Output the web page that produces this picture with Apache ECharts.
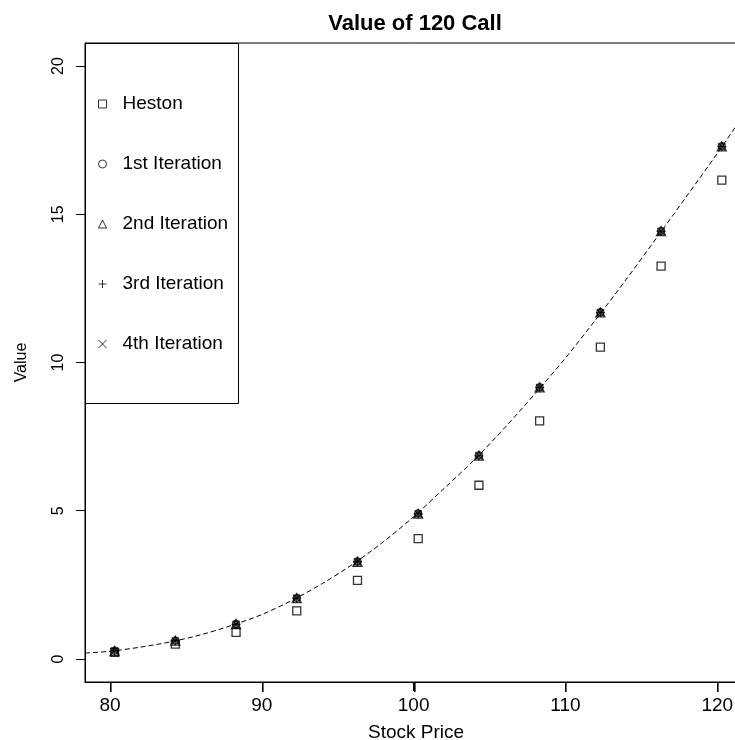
<!DOCTYPE html>
<html>
<head>
<meta charset="utf-8">
<script src="https://cdn.jsdelivr.net/npm/echarts@6/dist/echarts.min.js"></script>
<style>html,body{margin:0;padding:0;background:#fff}#c{width:735px;height:740px}</style>
</head>
<body>
<div id="c"></div>
<script>
// ---- data ----
var stockPrices = [80.3, 84.3, 88.3, 92.3, 96.3, 100.3, 104.3, 108.3, 112.3, 116.3, 120.3];
var heston = [0.22, 0.50, 0.90, 1.62, 2.65, 4.06, 5.86, 8.03, 10.52, 13.25, 16.15];
var iter1 = [0.28, 0.62, 1.18, 2.06, 3.29, 4.91, 6.87, 9.17, 11.70, 14.44, 17.30];
var iter2 = [0.27, 0.62, 1.18, 2.05, 3.28, 4.90, 6.86, 9.16, 11.69, 14.43, 17.29];
var iter3 = [0.27, 0.61, 1.17, 2.05, 3.28, 4.89, 6.85, 9.15, 11.68, 14.42, 17.28];
var iter4 = [0.27, 0.61, 1.17, 2.05, 3.28, 4.89, 6.85, 9.15, 11.68, 14.42, 17.28];
var curveX = [78.35, 80, 82, 84, 86, 88, 90, 92, 94, 96, 98, 100, 102, 104, 106, 108, 110, 112, 114, 116, 118, 120, 122];
var curveY = [0.20, 0.26, 0.40, 0.58, 0.82, 1.13, 1.50, 1.98, 2.55, 3.20, 3.95, 4.80, 5.75, 6.72, 7.80, 8.95, 10.15, 11.45, 12.80, 14.20, 15.62, 17.05, 18.55];
var xTicks = [80, 90, 100, 110, 120];
var yTicks = [0, 5, 10, 15, 20];
var seriesNames = ['Heston', '1st Iteration', '2nd Iteration', '3rd Iteration', '4th Iteration'];

function pairs(xs, ys) { return xs.map(function (x, i) { return [x, ys[i]]; }); }

var FONT = "'Liberation Sans', Arial, Helvetica, sans-serif";
var symbols = ['rect', 'circle', 'triangle', 'path://M0,5L10,5M5,0L5,10', 'path://M0,0L10,10M0,10L10,0'];
var sizes = [8, 7, 9, 9, 7];
var values = [heston, iter1, iter2, iter3, iter4];

var markerStyle = { color: 'transparent', borderColor: '#000', borderWidth: 1.3 };
var legendMarkerStyle = { color: 'transparent', borderColor: '#000', borderWidth: 1 };

var X_MIN = 78.35, Y_MIN = -0.776, Y_MAX = 20.776;
var GRID_W = 662, PX_PER_X = 15.18;

var series = [{
  type: 'line',
  name: 'curve',
  data: pairs(curveX, curveY),
  showSymbol: false,
  symbol: 'none',
  smooth: 0.3,
  lineStyle: { color: '#000', width: 1, type: [5, 3] },
  silent: true,
  z: 1
}];
for (var i = 0; i < seriesNames.length; i++) {
  series.push({
    type: 'scatter',
    name: seriesNames[i],
    data: pairs(stockPrices, values[i]),
    symbol: symbols[i],
    symbolSize: sizes[i],
    itemStyle: markerStyle,
    z: 2 + i
  });
}

var chart = echarts.init(document.getElementById('c'), null, { renderer: 'canvas' });
chart.setOption({
  animation: false,
  backgroundColor: '#fff',
  textStyle: { fontFamily: FONT },
  title: {
    text: 'Value of 120 Call',
    left: 410,
    textAlign: 'center',
    top: 8,
    textStyle: { fontFamily: FONT, fontWeight: 'bold', fontSize: 22, color: '#000' }
  },
  grid: {
    left: 85, top: 43, width: GRID_W, bottom: 58,
    containLabel: false, outerBoundsMode: 'none',
    show: true, borderColor: '#000', borderWidth: 1, backgroundColor: 'transparent'
  },
  xAxis: {
    type: 'value',
    position: 'bottom',
    min: X_MIN,
    max: X_MIN + GRID_W / PX_PER_X,
    name: 'Stock Price',
    nameLocation: 'middle',
    nameGap: 41,
    nameTextStyle: { fontFamily: FONT, fontSize: 19, color: '#000' },
    axisLine: { show: true, onZero: false, lineStyle: { color: '#000', width: 1 } },
    axisTick: { show: true, customValues: xTicks, length: 9, lineStyle: { color: '#000', width: 1 } },
    axisLabel: { customValues: xTicks, margin: 14, fontFamily: FONT, fontSize: 19, color: '#000' },
    splitLine: { show: false }
  },
  yAxis: {
    type: 'value',
    position: 'left',
    min: Y_MIN,
    max: Y_MAX,
    name: 'Value',
    nameLocation: 'middle',
    nameRotate: 90,
    nameGap: 55,
    nameTextStyle: { fontFamily: FONT, fontSize: 16, color: '#000' },
    axisLine: { show: true, onZero: false, lineStyle: { color: '#000', width: 1 } },
    axisTick: { show: true, customValues: yTicks, length: 9, lineStyle: { color: '#000', width: 1 } },
    axisLabel: { customValues: yTicks, rotate: 90, margin: 18, fontFamily: FONT, fontSize: 16, color: '#000' },
    splitLine: { show: false }
  },
  legend: {
    orient: 'vertical',
    left: 98,
    top: 94,
    padding: 0,
    itemWidth: 8,
    itemHeight: 8,
    itemGap: 40,
    selectedMode: false,
    textStyle: { fontFamily: FONT, fontSize: 19, color: '#000', lineHeight: 20, padding: [0, 0, 0, 11] },
    data: seriesNames.map(function (n, i) {
      return { name: n, icon: symbols[i], itemStyle: legendMarkerStyle };
    })
  },
  series: series
});

// legend box and outward x-axis tick marks, placed through the chart's own scales
var gfx = [{
  type: 'rect', id: 'legendBox', z: 100,
  shape: { x: 85.5, y: 43.5, width: 153, height: 360 },
  style: { fill: 'none', stroke: '#000', lineWidth: 1 }
}];
xTicks.forEach(function (v, k) {
  var p = chart.convertToPixel({ xAxisIndex: 0, yAxisIndex: 0 }, [v, Y_MIN]);
  var x = Math.round(p[0]);
  var y = Math.round(p[1]);
  gfx.push({
    type: 'rect', id: 'xtick' + k, z: 100,
    shape: { x: x, y: y, width: 1.6, height: 10 },
    style: { fill: '#000', stroke: null }
  });
});
chart.setOption({ graphic: gfx });
</script>
</body>
</html>
